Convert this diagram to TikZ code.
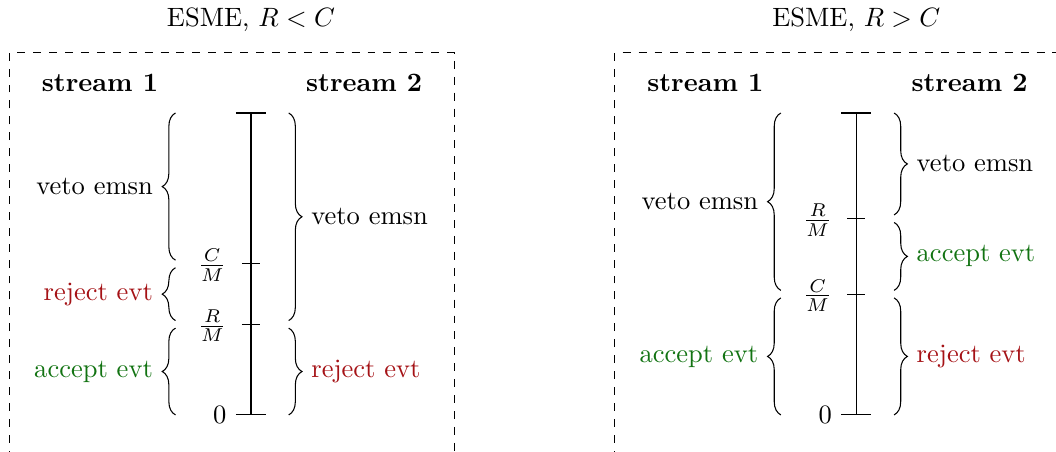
\documentclass[tikz,border=0pt]{standalone}
\usetikzlibrary{decorations.pathreplacing}
\definecolor{rejred}{RGB}{165,18,22}
\definecolor{accgreen}{RGB}{18,115,18}
\tikzset{
  bracel/.style={decorate,decoration={brace,amplitude=5pt}},
  streamlbl/.style={font=\bfseries},
  frac/.style={anchor=east,yshift=-0.5pt},
}

\begin{document}
\begin{tikzpicture}
\clip (-3.325,-0.49) rectangle (10.665,5.497);
%%%%%%%%% ESME, R<C %%%%%%%%
\begin{scope}
\node (a-t) at (0,5.23) {ESME, $R<C$};
\draw[dashed] (-3.2,-1) rectangle (2.7,4.8);
\node[streamlbl] (a-s1) at (-2,4.4) {stream 1};
\node[streamlbl] (a-s2) at (1.5,4.4) {stream 2};
%%% axis
\coordinate (a-0) at (0,0);
\coordinate (a-4) at (0,4);
\coordinate (a-C) at (0,2);
\coordinate (a-R) at (0,1.2);
\draw (a-0) -- (a-4);
\foreach \p in {0,4}
	\draw ([xshift=-2mm]a-\p) -- ([xshift=2mm]a-\p);
\foreach \p in {C,R}
	\draw ([xshift=-1.2mm]a-\p) -- ([xshift=1.2mm]a-\p);
\node[left] (a-z) at ([xshift=-2mm]a-0) {0};
\node[frac] (a-fC) at (-0.2,2) {$\frac{C}{M}$};
\node[frac] (a-fR) at (-0.2,1.2) {$\frac{R}{M}$};
%%% braces
\foreach \lo/\hi/\txt/\col [count=\i] in {0/1.15/accept evt/accgreen,
	1.25/1.95/reject evt/rejred, 2.05/4/veto emsn/black}
	\draw[bracel] (-1,\lo) -- (-1,\hi) node[midway,left=5pt,\col] (a-l\i) {\txt};
\foreach \hi/\lo/\txt/\col [count=\i] in {1.15/0/reject evt/rejred,
	4/1.25/veto emsn/black}
	\draw[bracel] (0.5,\hi) -- (0.5,\lo) node[midway,right=5pt,\col] (a-r\i) {\txt};
\end{scope}

%%%%%%%%% ESME, R>C %%%%%%%%
\begin{scope}[xshift=8.02cm]
\node (b-t) at (0,5.23) {ESME, $R>C$};
\draw[dashed] (-3.2,-1) rectangle (2.7,4.8);
\node[streamlbl] (b-s1) at (-2,4.4) {stream 1};
\node[streamlbl] (b-s2) at (1.5,4.4) {stream 2};
%%% axis
\coordinate (b-0) at (0,0);
\coordinate (b-4) at (0,4);
\coordinate (b-R) at (0,2.6);
\coordinate (b-C) at (0,1.6);
\draw (b-0) -- (b-4);
\foreach \p in {0,4}
	\draw ([xshift=-2mm]b-\p) -- ([xshift=2mm]b-\p);
\foreach \p in {C,R}
	\draw ([xshift=-1.2mm]b-\p) -- ([xshift=1.2mm]b-\p);
\node[left] (b-z) at ([xshift=-2mm]b-0) {0};
\node[frac] (b-fR) at (-0.2,2.6) {$\frac{R}{M}$};
\node[frac] (b-fC) at (-0.2,1.6) {$\frac{C}{M}$};
%%% braces
\foreach \lo/\hi/\txt/\col [count=\i] in {0/1.55/accept evt/accgreen,
	1.65/4/veto emsn/black}
	\draw[bracel] (-1,\lo) -- (-1,\hi) node[midway,left=5pt,\col] (b-l\i) {\txt};
\foreach \hi/\lo/\txt/\col [count=\i] in {1.55/0/reject evt/rejred,
	2.55/1.65/accept evt/accgreen, 4/2.65/veto emsn/black}
	\draw[bracel] (0.5,\hi) -- (0.5,\lo) node[midway,right=5pt,\col] (b-r\i) {\txt};
\end{scope}
\end{tikzpicture}
\end{document}
